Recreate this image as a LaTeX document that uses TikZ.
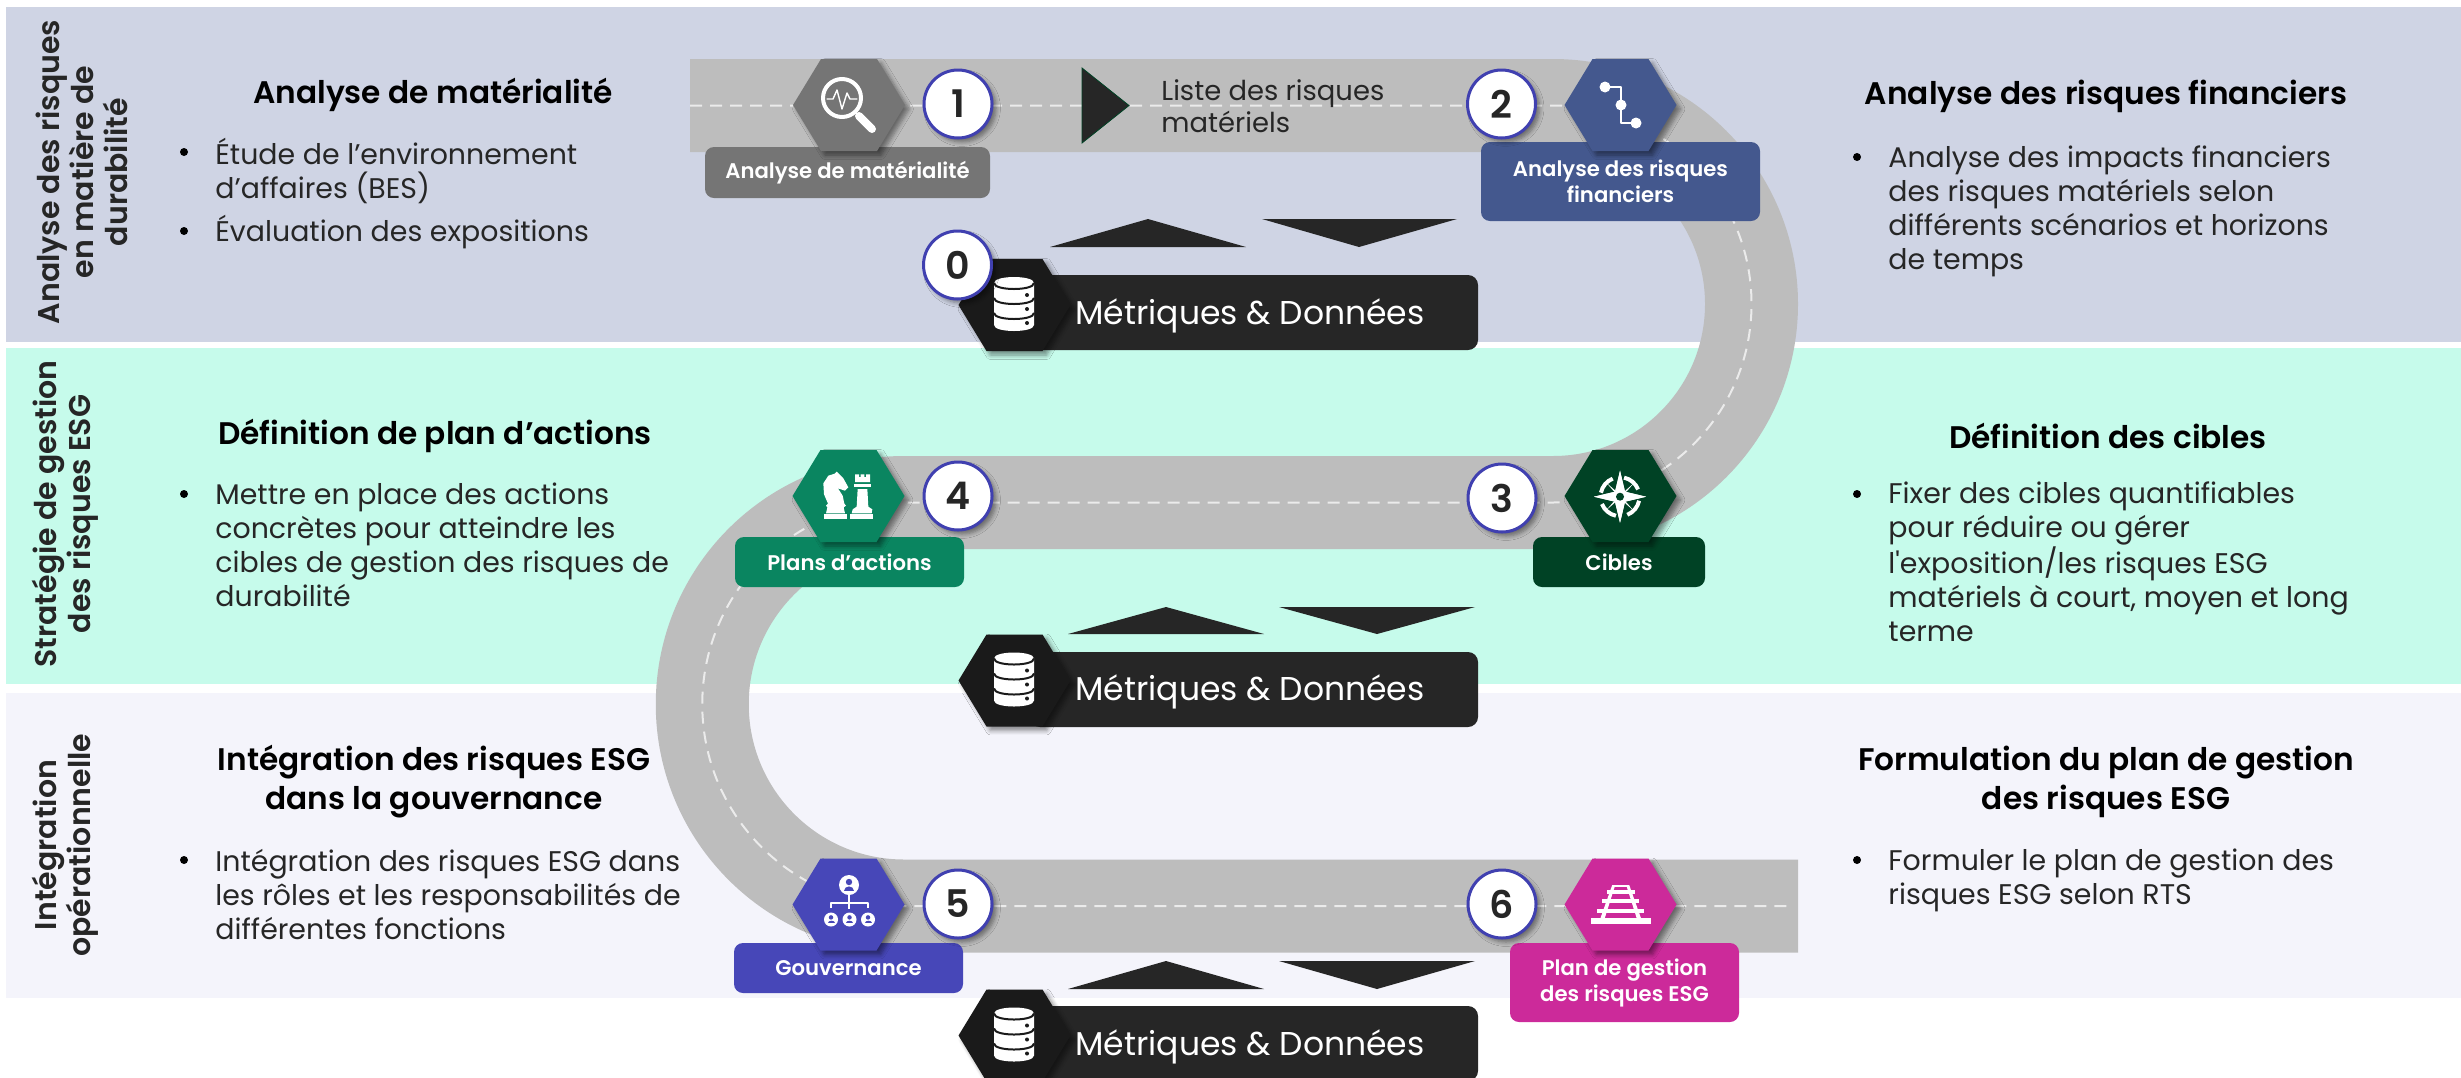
\documentclass[tikz,border=0pt]{standalone}
\usepackage{fontspec}
\defaultfontfeatures[\rmfamily]{}
\setmainfont{Poppins}[BoldFont=Poppins SemiBold]
\usetikzlibrary{shadows.blur}
\definecolor{bandA}{HTML}{CFD4E4}
\definecolor{bandB}{HTML}{C6FBEB}
\definecolor{bandC}{HTML}{F4F4FB}
\definecolor{roadgray}{HTML}{BDBDBD}
\definecolor{inkdark}{HTML}{262626}
\definecolor{ringblue}{HTML}{4040B0}
\definecolor{cGris}{HTML}{757575}
\definecolor{cBleu}{HTML}{44588E}
\definecolor{cVert}{HTML}{0A8560}
\definecolor{cForet}{HTML}{004225}
\definecolor{cIndigo}{HTML}{4747B8}
\definecolor{cRose}{HTML}{CC2A9A}
\definecolor{cNoir}{HTML}{1A1A1A}
\tikzset{
  softshadow/.style={blur shadow={shadow xshift=2pt,shadow yshift=-2pt,shadow blur steps=6,shadow opacity=45}},
  hexa/.pic={\path[fill=#1,softshadow] (-56,0) -- (-28,-46) -- (28,-46) -- (56,0) -- (28,46) -- (-28,46) -- cycle;},
  numdot/.style={circle,draw=ringblue,line width=1.5pt,fill=white,minimum size=34pt,inner sep=0pt,text=inkdark,font=\fontsize{19}{19}\selectfont\bfseries,softshadow},
  tagbox/.style={rounded corners=4.5pt,fill=#1,text=white,align=center,font=\fontsize{10.6}{13}\selectfont\bfseries,inner sep=0pt},
  bandlabel/.style={rotate=90,align=center,text=inkdark,font=\fontsize{15}{17}\selectfont\bfseries},
  heading/.style={align=center,text=black,font=\fontsize{15.6}{19.5}\selectfont\bfseries},
  puce/.style={anchor=west,align=left,text=inkdark,font=\fontsize{14.2}{17}\selectfont,inner sep=0pt},
  metbar/.style={fill=inkdark,rounded corners=5pt},
  mettext/.style={text=white,font=\fontsize{16.5}{18}\selectfont},
  tri/.style={fill=inkdark},
  icon/.style={draw=white,line width=1.2pt,line cap=round,line join=round},
  iconfill/.style={fill=white},
  dbase/.pic={
    \path[iconfill] (-20,-21) .. controls (-20,-29) and (20,-29) .. (20,-21) -- (20,21) .. controls (20,29) and (-20,29) .. (-20,21) -- cycle;
    \foreach \yy in {-15,0,15} {
      \draw[cNoir,line width=1pt] (-20,\yy-6) .. controls (-20,\yy+2) and (20,\yy+2) .. (20,\yy-6);
    }
    \foreach \yy in {-9,5,19} {\path[fill=cNoir] (13,\yy) circle (2);}
  },
  personne/.pic={
    \path[iconfill] (0,0) circle (#1);
    \path[fill=cIndigo] (0,-.3*#1) circle (.32*#1);
    \path[fill=cIndigo] (-.5*#1,.55*#1) .. controls (-.5*#1,0) and (.5*#1,0) .. (.5*#1,.55*#1) -- cycle;
  }
}
\begin{document}
\begin{tikzpicture}[x=.5pt,y=-.5pt]
\useasboundingbox (0,0) rectangle (2461,1077);
\clip (0,0) rectangle (2461,1077);
% bands
\fill[bandA] (6,7) rectangle (2461,342);
\fill[bandB] (6,348) rectangle (2461,684);
\fill[bandC] (6,693) rectangle (2461,998);
% road
\coordinate (roadA) at (690,105.5);
\coordinate (roadB) at (1553,105.5);
\coordinate (roadD) at (904,502.5);
\coordinate (roadF) at (1798,906);
\coordinate (roadG) at (1790,906);
\draw[roadgray,line width=46.5pt] (roadA) -- (roadB) arc (-90:90:198.5) -- (roadD) arc (270:90:201.75) -- (roadF);
\draw[white!92!black,line width=1pt,dash pattern=on 6pt off 4pt] (roadA) -- (roadB) arc (-90:90:198.5) -- (roadD) arc (270:90:201.75) -- (roadG);
% play arrow
\path[tri,draw=cForet] (1082,68) -- (1129,105.5) -- (1082,143) -- cycle;
\node[anchor=west,align=left,inner sep=0pt,text=inkdark,font=\fontsize{13.7}{15.7}\selectfont] (listeRisques) at (1161,106) {Liste des risques\\matériels};
% metric triangles and bars
\path[tri] (1050,247) -- (1148,219) -- (1246,247) -- cycle;
\path[tri] (1262,219) -- (1457,219) -- (1359,247) -- cycle;
\path[tri] (1068,634) -- (1166,607) -- (1264,634) -- cycle;
\path[tri] (1279,607) -- (1475,607) -- (1377,634) -- cycle;
\path[tri] (1068,989) -- (1166,961) -- (1264,989) -- cycle;
\path[tri] (1279,961) -- (1475,961) -- (1377,989) -- cycle;
\foreach \yy/\yt in {305/275,680.5/652,1035.5/1006} {
  \path[metbar] (1030,\yt) rectangle (1478,\yt+75);
  \pic at (1014.5,\yy) {hexa=cNoir};
  \pic at (1014,\yy-1) {dbase};
}
\node[mettext] (metA) at (1250,316) {Métriques \& Données};
\node[mettext] (metB) at (1250,692) {Métriques \& Données};
\node[mettext] (metC) at (1250,1047) {Métriques \& Données};
% tags
\node[tagbox=cGris,minimum width=142.5pt,minimum height=25.5pt] (tagUn) at (847.5,172.5) {Analyse de matérialité};
\node[tagbox=cBleu,minimum width=139.5pt,minimum height=39.5pt] (tagDeux) at (1620.5,181.5) {Analyse des risques\\financiers};
\node[tagbox=cVert,minimum width=114.5pt,minimum height=25pt] (tagQuatre) at (849.5,562) {Plans d’actions};
\node[tagbox=cForet,minimum width=86pt,minimum height=25pt] (tagTrois) at (1619,562) {Cibles};
\node[tagbox=cIndigo,minimum width=114.5pt,minimum height=25pt] (tagCinq) at (848.5,968) {Gouvernance};
\node[tagbox=cRose,minimum width=114.5pt,minimum height=39.5pt] (tagSix) at (1624.5,982.5) {Plan de gestion\\des risques ESG};
% hexagons
\pic at (849,105) {hexa=cGris};
\pic at (1620.5,105) {hexa=cBleu};
\pic at (848.5,496) {hexa=cVert};
\pic at (1620.5,496) {hexa=cForet};
\pic at (848.5,904.5) {hexa=cIndigo};
\pic at (1620.5,904.5) {hexa=cRose};
% icon loupe
\draw[icon,line width=2pt] (842,98) circle (19);
\draw[icon,line width=4pt] (859,116) -- (872,129);
\draw[icon,line width=.7pt] (827,99) -- (833,99) -- (837,90) -- (842,109) -- (847,93) -- (850,99) -- (857,99);
% icon route
\draw[icon] (1605,87) -- (1621,87) -- (1621,123) -- (1636,123);
\foreach \xx/\yy in {1605/87,1621/105,1636/123} {\path[iconfill] (\xx,\yy) circle (5.5);}
% icon boussole
\foreach \aa in {0,90,180,270} {
  \path[iconfill,rotate around={\aa:(1620,496.7)}] (1646,496.7) -- (1625,491.7) -- (1620,470.7) -- (1615,491.7) -- (1620,496.7) -- (1625,501.7) -- cycle;
  \path[iconfill,rotate around={\aa:(1620,496.7)}] (1620,496.7) -- (1626,490) -- (1634,483) -- (1627,491) -- cycle;
  \draw[white,line width=2pt,rotate around={\aa:(1620,496.7)}] (1620,496.7) ++(12:19.5) arc (12:68:19.5);
}
\path[fill=cForet] (1620,496.7) circle (4);
% icon echecs
\begin{scope}[shift={(800,455)},x=.5pt/3,y=-.5pt/3]
\path[iconfill] (72,178) -- (140,178) -- (140,192) -- (72,192) -- cycle;
\path[iconfill] (78,175) -- (82,157) -- (78,152) -- (84,146) -- (72,118) -- (70,85) -- (85,62) -- (104,56) -- (110,50) -- (116,56) -- (130,70) -- (145,97) -- (135,107) -- (114,100) -- (128,122) -- (133,146) -- (138,152) -- (131,157) -- (135,175) -- cycle;
\path[iconfill] (150,178) -- (220,178) -- (220,192) -- (150,192) -- cycle;
\path[iconfill] (155,175) -- (158,163) -- (170,155) -- (173,102) -- (202,102) -- (205,155) -- (217,163) -- (215,175) -- cycle;
\path[iconfill] (162,87) -- (213,87) -- (213,97) -- (162,97) -- cycle;
\path[iconfill] (165,58) -- (177,58) -- (177,66) -- (182,66) -- (182,58) -- (193,58) -- (193,66) -- (198,66) -- (198,58) -- (210,58) -- (210,81) -- (165,81) -- cycle;
\end{scope}
% icon gouvernance
\draw[icon,line cap=butt,line width=1pt] (849,895) -- (849,909);
\draw[icon,line cap=butt,line width=1pt] (831,908) -- (831,903) -- (868,903) -- (868,908);
\pic at (849,885) {personne=10};
\pic at (831,919.5) {personne=7};
\pic at (849.5,919.5) {personne=7};
\pic at (868,919.5) {personne=7};
% icon rails
\foreach \ss in {-1,1} {
  \path[iconfill] (1620.7+\ss*5.5,885) -- (1620.7+\ss*8.5,885) -- (1620.7+\ss*22,923) -- (1620.7+\ss*17.5,923) -- cycle;
}
\foreach \yy/\hh/\tt in {886/8.5/2,892/14/3.5,901/18.5/4,911/23.5/4.5,920.5/30/6} {
  \path[iconfill] (1620.7-\hh,\yy-\tt/2) rectangle (1620.7+\hh,\yy+\tt/2);
}
% numbers
\node[numdot] (numZero) at (957.5,265) {0};
\node[numdot] (numUn) at (958,104) {1};
\node[numdot] (numDeux) at (1501.5,104) {2};
\node[numdot] (numTrois) at (1502,498) {3};
\node[numdot] (numQuatre) at (958,496) {4};
\node[numdot] (numCinq) at (958,904) {5};
\node[numdot] (numSix) at (1502,904) {6};
% side labels
\node[bandlabel] (sideA) at (82,172) {Analyse des risques\\en matière de\\durabilité};
\node[bandlabel] (sideB) at (65,514) {Stratégie de gestion\\des risques ESG};
\node[bandlabel] (sideC) at (65,845) {Intégration\\opérationnelle};
% headings
\node[heading] (titreA) at (433,95) {Analyse de matérialité};
\node[heading] (titreB) at (2106,96) {Analyse des risques financiers};
\node[heading] (titreC) at (435,436) {Définition de plan d’actions};
\node[heading] (titreD) at (2108,436) {Définition des cibles};
\node[heading] (titreE) at (434,782) {Intégration des risques ESG\\dans la gouvernance};
\node[heading] (titreF) at (2106,782) {Formulation du plan de gestion\\des risques ESG};
% bullet texts
\node[puce] (puceA) at (215,170.5) {Étude de l’environnement\\d’affaires (BES)};
\node[puce] (puceB) at (215,232) {Évaluation des expositions};
\node[puce] (puceC) at (1888,211) {Analyse des impacts financiers\\des risques matériels selon\\différents scénarios et horizons\\de temps};
\node[puce] (puceD) at (215,545) {Mettre en place des actions\\concrètes pour atteindre les\\cibles de gestion des risques de\\durabilité};
\node[puce] (puceE) at (1888,561.5) {Fixer des cibles quantifiables\\pour réduire ou gérer\\l'exposition/les risques ESG\\matériels à court, moyen et long\\terme};
\node[puce] (puceF) at (215,895) {Intégration des risques ESG dans\\les rôles et les responsabilités de\\différentes fonctions};
\node[puce] (puceG) at (1888,880) {Formuler le plan de gestion des\\risques ESG selon RTS};
% bullets
\foreach \xx/\yy in {184/152,184/231,1857/157,184/494,1857/494,184/860,1857/860} {
  \path[fill=black] (\xx,\yy) circle (4);
}
\end{tikzpicture}
\end{document}
